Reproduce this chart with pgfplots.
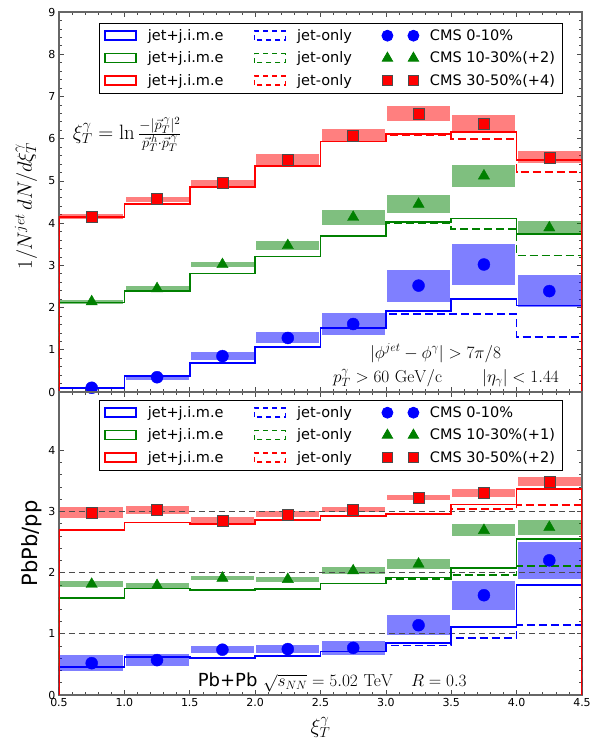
\documentclass[border=0pt]{standalone}
\usepackage[no-math]{fontspec}
\setmainfont{DejaVu Sans}
\usepackage{pgfplots}
\pgfplotsset{compat=1.18}
\usepackage{pgfplotstable}

\definecolor{mplgreen}{rgb}{0,0.5,0}

% step histograms: bin edges, solid (jet+j.i.m.e) and dashed (jet-only)
\pgfplotstableread{
e    bs    bd    gs    gd    rs    rd
0.5  0     0     0     0     0     0
0.5  0.10  0.10  2.12  2.12  4.14  4.14
1.0  0.38  0.38  2.40  2.40  4.45  4.45
1.5  0.69  0.69  2.81  2.81  4.85  4.85
2.0  1.07  1.07  3.21  3.21  5.36  5.36
2.5  1.52  1.52  3.70  3.70  5.93  5.93
3.0  1.92  1.84  4.02  4.00  6.11  6.09
3.5  2.20  1.84  4.11  3.86  6.15  6.00
4.0  2.05  1.30  3.74  3.23  5.50  5.21
4.5  2.05  1.30  3.74  3.23  5.50  5.21
4.5  0     0     0     0     0     0
}\topstep

\pgfplotstableread{
x     b     be    g     ge    r     re
0.75  0.10  0.03  2.14  0.05  4.16  0.06
1.25  0.35  0.06  2.45  0.06  4.57  0.06
1.75  0.85  0.09  3.02  0.06  4.95  0.08
2.25  1.28  0.13  3.47  0.10  5.50  0.14
2.75  1.61  0.26  4.14  0.18  6.07  0.15
3.25  2.52  0.38  4.45  0.21  6.60  0.17
3.75  3.02  0.49  5.12  0.26  6.35  0.20
4.25  2.39  0.38  3.89  0.16  5.56  0.14
}\topcms

\pgfplotstableread{
e    bs    bd    gs    gd    rs    rd
0.5  0     0     0     0     0     0
0.5  0.46  0.46  1.58  1.58  2.70  2.70
1.0  0.62  0.62  1.74  1.74  2.82  2.82
1.5  0.60  0.60  1.72  1.72  2.79  2.79
2.0  0.64  0.64  1.73  1.73  2.86  2.86
2.5  0.71  0.71  1.82  1.82  2.92  2.92
3.0  0.85  0.81  1.92  1.90  2.96  2.96
3.5  1.11  0.93  2.07  1.96  3.11  3.04
4.0  1.80  1.14  2.55  2.11  3.36  3.10
4.5  1.80  1.14  2.55  2.11  3.36  3.10
4.5  0     0     0     0     0     0
}\botstep

\pgfplotstableread{
x     b     be    g     ge    r     re
0.75  0.52  0.13  1.81  0.05  2.98  0.09
1.25  0.57  0.10  1.79  0.04  3.02  0.07
1.75  0.74  0.06  1.91  0.03  2.85  0.05
2.25  0.75  0.07  1.89  0.04  2.95  0.05
2.75  0.77  0.11  2.03  0.06  3.03  0.04
3.25  1.14  0.16  2.14  0.08  3.23  0.04
3.75  1.63  0.24  2.69  0.10  3.30  0.07
4.25  2.20  0.30  2.74  0.12  3.49  0.07
}\botcms

\pgfplotsset{
  rect legend/.style={legend image code/.code={\draw[##1] (0pt,-4.5pt) rectangle (31pt,4.5pt);}},
  pair legend/.style={legend image code/.code={\draw[##1] plot[only marks] coordinates {(5pt,0pt) (31pt,0pt)};}},
  panel/.style={
    scale only axis, width=523pt, xmin=0.5, xmax=4.5,
    xtick={0.5,1.0,1.5,2.0,2.5,3.0,3.5,4.0,4.5},
    minor x tick num=4, minor y tick num=4,
    axis line style={black!60, line width=1.3pt},
    tick style={black!70, line width=0.6pt},
    major tick length=5pt, minor tick length=3pt,
    tick label style={font=\fontsize{11}{13}\selectfont},
    /pgf/number format/assume math mode=true,
    legend columns=3,
    legend cell align=left,
    legend style={draw=black, line width=0.8pt, fill=white,
      font=\fontsize{14.5}{16}\selectfont, row sep=6pt,
      inner xsep=5pt, inner ysep=4pt,
      /tikz/every odd column/.style={column sep=9pt},
      /tikz/every even column/.style={column sep=28pt}},
  },
  band/.style={forget plot, draw=none, error bars/.cd, y dir=both, y explicit,
    error mark=none, error bar style={draw=#1, opacity=0.5, line width=63pt}},
  hstep/.style={forget plot, const plot, #1, line width=1.7pt},
  dstep/.style={forget plot, const plot, #1, line width=1.7pt, dash pattern=on 8pt off 4pt},
  cmsb/.style={forget plot, only marks, mark=*, blue, mark size=6pt},
  cmsg/.style={forget plot, only marks, mark=triangle*, mplgreen, mark size=6.5pt},
  cmsr/.style={forget plot, only marks, mark=square*, mark size=5.5pt,
    mark options={fill=red, draw=black!70, line width=0.5pt}},
}

\begin{document}
\begin{tikzpicture}

\begin{axis}[panel, name=top, at={(0,0)}, anchor=south west,
  height=380pt, ymin=0, ymax=9, ytick={0,1,...,9}, xticklabels={},
  ylabel={$1/N^{jet}\,dN/d\xi_T^{\gamma}$},
  ylabel style={at={(axis description cs:-0.063,0.49)}, anchor=center,
    font=\fontsize{22}{24}\selectfont},
  legend style={at={(rel axis cs:0.0765,0.971)}, anchor=north west}]

\addplot[band=blue] table[x=x, y=b, y error=be] {\topcms};
\addplot[band=mplgreen] table[x=x, y=g, y error=ge] {\topcms};
\addplot[band=red] table[x=x, y=r, y error=re] {\topcms};

\addplot[hstep=blue] table[x=e, y=bs] {\topstep};
\addplot[dstep=blue] table[x=e, y=bd] {\topstep};
\addplot[hstep=mplgreen] table[x=e, y=gs] {\topstep};
\addplot[dstep=mplgreen] table[x=e, y=gd] {\topstep};
\addplot[hstep=red] table[x=e, y=rs] {\topstep};
\addplot[dstep=red] table[x=e, y=rd] {\topstep};

\addplot[cmsb] table[x=x, y=b] {\topcms};
\addplot[cmsg] table[x=x, y=g] {\topcms};
\addplot[cmsr] table[x=x, y=r] {\topcms};

\addlegendimage{rect legend, blue, line width=1.5pt}
\addlegendentry{jet+j.i.m.e}
\addlegendimage{rect legend, blue, line width=1.5pt, dash pattern=on 5pt off 4pt}
\addlegendentry{jet-only}
\addlegendimage{pair legend, blue, mark=*, mark size=5.5pt}
\addlegendentry{CMS 0-10\%}
\addlegendimage{rect legend, mplgreen, line width=1.5pt}
\addlegendentry{jet+j.i.m.e}
\addlegendimage{rect legend, mplgreen, line width=1.5pt, dash pattern=on 5pt off 4pt}
\addlegendentry{jet-only}
\addlegendimage{pair legend, mplgreen, mark=triangle*, mark size=6pt}
\addlegendentry{CMS 10-30\%(+2)}
\addlegendimage{rect legend, red, line width=1.5pt}
\addlegendentry{jet+j.i.m.e}
\addlegendimage{rect legend, red, line width=1.5pt, dash pattern=on 5pt off 4pt}
\addlegendentry{jet-only}
\addlegendimage{pair legend, mark=square*, mark size=5pt, mark options={fill=red, draw=black!70, line width=0.5pt}}
\addlegendentry{CMS 30-50\%(+4)}

\node[anchor=west, font=\fontsize{21}{23}\selectfont] at (axis cs:0.58,6.1)
  {$\xi_T^{\gamma}=\ln\frac{-|\vec{p}_T^{\,\gamma}|^2}{\vec{p}_T^{\,h}\cdot\vec{p}_T^{\,\gamma}}$};
\node[anchor=center, font=\fontsize{17.5}{19}\selectfont] at (axis cs:3.38,0.92)
  {$|\phi^{jet}-\phi^{\gamma}|>7\pi/8$};
\node[anchor=east, font=\fontsize{17.5}{19}\selectfont] at (axis cs:4.35,0.33)
  {$p_T^{\gamma}>60\ \mathrm{GeV/c}\hspace{2.3em}|\eta_{\gamma}|<1.44$};
\end{axis}

\begin{axis}[panel, name=bot, at={(0,0)}, anchor=north west,
  height=303pt, ymin=0, ymax=4.95, ytick={0,1,2,3,4},
  xticklabel style={/pgf/number format/.cd, fixed, fixed zerofill, precision=1},
  xlabel={$\xi_T^{\gamma}$},
  xlabel style={at={(axis description cs:0.5,-0.106)}, anchor=center,
    font=\fontsize{22}{24}\selectfont},
  ylabel={PbPb/pp},
  ylabel style={at={(axis description cs:-0.053,0.5)}, anchor=center,
    font=\fontsize{21}{24}\selectfont},
  legend style={at={(rel axis cs:0.0765,0.9735)}, anchor=north west}]

\addplot[band=blue] table[x=x, y=b, y error=be] {\botcms};
\addplot[band=mplgreen] table[x=x, y=g, y error=ge] {\botcms};
\addplot[band=red] table[x=x, y=r, y error=re] {\botcms};

\addplot[forget plot, black!70, line width=0.9pt, dash pattern=on 6pt off 4pt] coordinates {(0.5,1) (4.5,1)};
\addplot[forget plot, black!70, line width=0.9pt, dash pattern=on 6pt off 4pt] coordinates {(0.5,2) (4.5,2)};
\addplot[forget plot, black!70, line width=0.9pt, dash pattern=on 6pt off 4pt] coordinates {(0.5,3) (4.5,3)};

\addplot[hstep=blue] table[x=e, y=bs] {\botstep};
\addplot[dstep=blue] table[x=e, y=bd] {\botstep};
\addplot[hstep=mplgreen] table[x=e, y=gs] {\botstep};
\addplot[dstep=mplgreen] table[x=e, y=gd] {\botstep};
\addplot[hstep=red] table[x=e, y=rs] {\botstep};
\addplot[dstep=red] table[x=e, y=rd] {\botstep};

\addplot[cmsb] table[x=x, y=b] {\botcms};
\addplot[cmsg] table[x=x, y=g] {\botcms};
\addplot[cmsr] table[x=x, y=r] {\botcms};

\addlegendimage{rect legend, blue, line width=1.5pt}
\addlegendentry{jet+j.i.m.e}
\addlegendimage{rect legend, blue, line width=1.5pt, dash pattern=on 5pt off 4pt}
\addlegendentry{jet-only}
\addlegendimage{pair legend, blue, mark=*, mark size=5.5pt}
\addlegendentry{CMS 0-10\%}
\addlegendimage{rect legend, mplgreen, line width=1.5pt}
\addlegendentry{jet+j.i.m.e}
\addlegendimage{rect legend, mplgreen, line width=1.5pt, dash pattern=on 5pt off 4pt}
\addlegendentry{jet-only}
\addlegendimage{pair legend, mplgreen, mark=triangle*, mark size=6pt}
\addlegendentry{CMS 10-30\%(+1)}
\addlegendimage{rect legend, red, line width=1.5pt}
\addlegendentry{jet+j.i.m.e}
\addlegendimage{rect legend, red, line width=1.5pt, dash pattern=on 5pt off 4pt}
\addlegendentry{jet-only}
\addlegendimage{pair legend, mark=square*, mark size=5pt, mark options={fill=red, draw=black!70, line width=0.5pt}}
\addlegendentry{CMS 30-50\%(+2)}

\node[anchor=center, font=\fontsize{18}{20}\selectfont] at (axis cs:2.59,0.2)
  {Pb+Pb $\sqrt{s_{NN}}=5.02\ \mathrm{TeV}\quad R=0.3$};
\end{axis}

\pgfresetboundingbox
\path[use as bounding box] (-59pt,-348pt) rectangle (540pt,392pt);
\end{tikzpicture}
\end{document}
